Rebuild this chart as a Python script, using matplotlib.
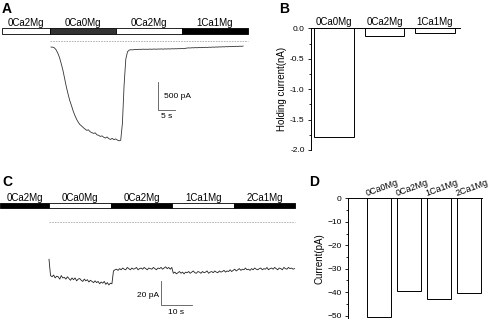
import numpy as np
import matplotlib
matplotlib.use("Agg")
import matplotlib.pyplot as plt
from matplotlib.patches import Rectangle
from matplotlib.transforms import blended_transform_factory
from matplotlib.ticker import MultipleLocator

plt.rcParams['font.family'] = ['Liberation Sans', 'DejaVu Sans']

# ---- panel A: holding current trace (pA), sampled every 0.5 s ----
a_dt = 0.5
a_trace = [
    -110, -112, -125, -160, -220, -300, -410, -530, -680, -830,          # 0-4.5 s
    -960, -1080, -1170, -1270, -1350, -1420, -1475, -1520, -1545, -1575,  # 5-9.5
    -1600, -1625, -1615, -1650, -1665, -1680, -1670, -1705, -1715, -1735,  # 10-14.5
    -1725, -1750, -1765, -1745, -1775, -1790, -1770, -1795, -1780, -1800,  # 15-19.5
    -1815, -1805, -1500, -800, -330, -195, -165, -158, -162, -155,        # 20-24.5
    -152, -155, -150, -153, -148, -151, -149, -152, -147, -150,           # 25-29.5
    -148, -146, -150, -145, -147, -144, -148, -143, -146, -142,           # 30-34.5
    -145, -141, -143, -140, -142, -138, -140, -136, -139, -134,           # 35-39.5
    -128, -125, -127, -122, -124, -120, -123, -118, -121, -116,           # 40-44.5
    -119, -114, -117, -112, -115, -110, -113, -108, -111, -106,           # 45-49.5
    -109, -104, -107, -102, -105, -100, -103, -98, -101, -96,             # 50-54.5
    -99, -94, -97, -92,                                                   # 55-56.5
]
a_sol_labels = ['0Ca2Mg', '0Ca0Mg', '0Ca2Mg', '1Ca1Mg']
a_sol_edges = [-14.4, -0.3, 19.1, 38.5, 57.9]
a_sol_colors = ['white', '#333333', 'white', 'black']

# ---- panel B: holding current (nA) ----
b_labels = ['0Ca0Mg', '0Ca2Mg', '1Ca1Mg']
b_values = [-1.79, -0.13, -0.085]

# ---- panel C: current trace (pA), sampled every 0.5 s ----
c_dt = 0.5
c_trace = [
    -32, -46, -47, -45.5, -48, -46.5, -47, -49, -46, -48,                 # 0-4.5 s
    -47.5, -49, -47, -48.5, -50, -48, -49.5, -48, -50.5, -49,             # 5-9.5
    -48.5, -50, -51, -49, -50.5, -49.5, -51.5, -50, -51, -52,             # 10-14.5
    -50.5, -52, -51, -53, -51.5, -52.5, -51, -53.5, -52, -54,             # 15-19.5
    -52.5, -53, -42, -41, -40.5, -41.5, -40, -41, -39.5, -40.5,           # 20-24.5
    -41, -39, -40, -41, -39.5, -40.5, -40, -39, -41, -40,                 # 25-29.5
    -39.5, -40.5, -39, -40, -41, -39.5, -40, -40.5, -39, -40,             # 30-34.5
    -41, -39.5, -40, -39, -40.5, -39.5, -38.5, -40, -39, -40.5,           # 35-39.5
    -39, -44, -43, -44.5, -43.5, -42.5, -44, -43, -44.5, -43,             # 40-44.5
    -43.5, -42.5, -44, -43, -42, -43.5, -44, -42.5, -43, -44,             # 45-49.5
    -42.5, -43.5, -43, -42, -44, -43, -42.5, -43.5, -42, -43,             # 50-54.5
    -43.5, -42, -43, -42.5, -41.5, -43, -42, -42.5, -41, -42.5,           # 55-59.5
    -41.5, -40.5, -42, -41, -40, -41.5, -40.5, -41, -39.5, -41,           # 60-64.5
    -40.5, -41.5, -40, -41, -39.5, -40.5, -41, -40, -39.5, -41,           # 65-69.5
    -40, -40.5, -39, -41, -40, -39.5, -40.5, -39, -40, -41,               # 70-74.5
    -39.5, -40, -41, -39, -40, -40.5, -39, -40, -39.5, -40.5,             # 75-79.5
    -40,
]
c_sol_labels = ['0Ca2Mg', '0Ca0Mg', '0Ca2Mg', '1Ca1Mg', '2Ca1Mg']
c_sol_edges = [-16.0, 0.0, 20.2, 40.1, 60.3, 80.1]
c_sol_colors = ['black', 'white', 'black', 'white', 'black']

# ---- panel D: current (pA) ----
d_labels = ['0Ca0Mg', '0Ca2Mg', '1Ca1Mg', '2Ca1Mg']
d_values = [-50.5, -39.6, -43.0, -40.5]


def draw_strip(ax, edges, colors, labels, y0, h, label_y):
    trans = blended_transform_factory(ax.transData, ax.transAxes)
    for i, lab in enumerate(labels):
        ax.add_patch(Rectangle((edges[i], y0), edges[i + 1] - edges[i], h,
                               transform=trans, facecolor=colors[i],
                               edgecolor='black', lw=0.6, clip_on=False))
        ax.text((edges[i] + edges[i + 1]) / 2, label_y, lab, transform=trans,
                ha='center', va='center', fontsize=7)


def scale_bar(ax, x0, y0, dx, dy, xlab, ylab, ylab_xy, xlab_xy, yha):
    ax.plot([x0, x0, x0 + dx], [y0 + dy, y0, y0], color='#555555', lw=0.6)
    ax.text(ylab_xy[0], ylab_xy[1], ylab, fontsize=6, ha=yha, va='center')
    ax.text(xlab_xy[0], xlab_xy[1], xlab, fontsize=6, ha='center', va='center')


fig = plt.figure(figsize=(5, 3.2), dpi=100)
W, H = 500.0, 320.0

def px_axes(x0, y0, x1, y1):
    return fig.add_axes([x0 / W, 1 - y1 / H, (x1 - x0) / W, (y1 - y0) / H])

# ---------- A ----------
axA = px_axes(0, 20, 250, 145)
ta = np.arange(len(a_trace)) * a_dt
axA.plot(ta, a_trace, color='#333333', lw=0.6)
axA.plot([-0.3, 57.9], [0, 0], color='#aaaaaa', lw=0.6, ls=(0, (2, 1.2)))
axA.set_xlim(-15.0, 58.53)
axA.set_ylim(-1891, 382)
axA.axis('off')
draw_strip(axA, a_sol_edges, a_sol_colors, a_sol_labels, 0.888, 0.048, 0.972)
scale_bar(axA, 31.5, -1250, 5, 500, '5 s', '500 pA',
          (33.2, -1000), (34.0, -1370), 'left')

# ---------- B ----------
axB = px_axes(311, 28.3, 460, 150)
axB.bar(range(len(b_values)), b_values, width=0.79, facecolor='white',
        edgecolor='black', lw=0.7)
axB.set_xlim(-0.455, 2.495)
axB.set_ylim(-2.0, 0)
axB.xaxis.tick_top()
axB.set_xticks(range(len(b_labels)))
axB.set_xticklabels(b_labels, fontsize=7)
axB.tick_params(axis='x', length=0, pad=1)
axB.yaxis.set_major_locator(MultipleLocator(0.5))
axB.yaxis.set_minor_locator(MultipleLocator(0.25))
axB.set_yticks([0, -0.5, -1.0, -1.5, -2.0])
axB.set_yticklabels(['0.0', '-0.5', '-1.0', '-1.5', '-2.0'])
axB.tick_params(axis='y', which='major', length=2.5, width=0.6, labelsize=6, pad=2)
axB.tick_params(axis='y', which='minor', length=1.5, width=0.6)
for s in ['bottom', 'right']:
    axB.spines[s].set_visible(False)
for s in ['top', 'left']:
    axB.spines[s].set_linewidth(0.7)
axB.set_ylabel('Holding current(nA)', fontsize=7)
axB.yaxis.set_label_coords(-0.161, 0.5)

# ---------- C ----------
axC = px_axes(0, 190, 296, 318)
tc = np.arange(len(c_trace)) * c_dt
axC.plot(tc, c_trace, color='#222222', lw=0.6)
axC.plot([0, 80.1], [0, 0], color='#aaaaaa', lw=0.6, ls=(0, (2, 1.2)))
axC.set_xlim(-15.96, 80.46)
axC.set_ylim(-82.4, 27.5)
axC.axis('off')
draw_strip(axC, c_sol_edges, c_sol_colors, c_sol_labels, 0.863, 0.035, 0.9375)
scale_bar(axC, 36.5, -71, 10, 20, '10 s', '20 pA',
          (35.8, -63.5), (41.5, -77.5), 'right')

# ---------- D ----------
axD = px_axes(347.7, 198.3, 482, 318.3)
axD.bar(range(len(d_values)), d_values, width=0.8, facecolor='white',
        edgecolor='black', lw=0.7)
axD.set_xlim(-1.03, 3.42)
axD.set_ylim(-51.1, 0)
axD.set_xticks([])
for i, lab in enumerate(d_labels):
    axD.text(i - 0.4, 0.9, lab, rotation=20, ha='left', va='baseline',
             rotation_mode='anchor', fontsize=6.5)
axD.set_yticks([0, -10, -20, -30, -40, -50])
axD.yaxis.set_minor_locator(MultipleLocator(5))
axD.tick_params(axis='y', which='major', length=2.5, width=0.6, labelsize=6, pad=2)
axD.tick_params(axis='y', which='minor', length=1.5, width=0.6)
for s in ['bottom', 'right']:
    axD.spines[s].set_visible(False)
for s in ['top', 'left']:
    axD.spines[s].set_linewidth(0.7)
axD.set_ylabel('Current(pA)', fontsize=7)
axD.yaxis.set_label_coords(-0.176, 0.5)

# panel letters
for lab, x, y in [('A', 2, 13), ('B', 279, 13), ('C', 2, 186), ('D', 309, 186)]:
    fig.text(x / W, 1 - y / H, lab, fontsize=10, fontweight='bold', va='baseline')

fig.savefig('out.png', dpi=100)
